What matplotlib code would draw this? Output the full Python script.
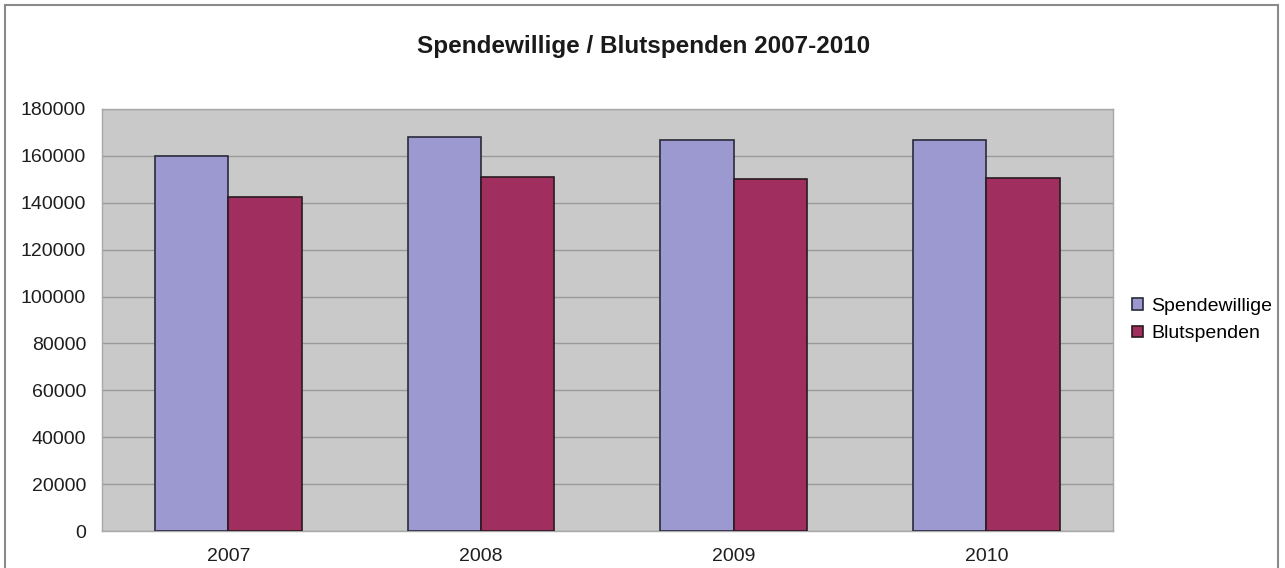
import matplotlib.pyplot as plt
import numpy as np
from matplotlib.patches import Rectangle

years = ["2007", "2008", "2009", "2010"]
spendewillige = [160000, 168000, 166800, 166800]
blutspenden = [142500, 151200, 150000, 150600]
yticks = [0, 20000, 40000, 60000, 80000, 100000, 120000, 140000, 160000, 180000]


def main():
    plt.rcParams['font.family'] = ['Liberation Sans', 'DejaVu Sans']
    fig = plt.figure(figsize=(12.85, 5.68), dpi=100)
    ax = fig.add_axes([0.0794, 0.0651, 0.7865, 0.743])

    x = np.arange(len(years))
    w = 0.29
    ax.bar(x - w / 2, spendewillige, w, color='#9b99cf', edgecolor='#2a2a3a',
           linewidth=1.2, label='Spendewillige', zorder=3)
    ax.bar(x + w / 2, blutspenden, w, color='#a02f60', edgecolor='#2a1a20',
           linewidth=1.2, label='Blutspenden', zorder=3)

    ax.set_facecolor('#c9c9c9')
    ax.set_xlim(-0.5, len(years) - 0.5)
    ax.set_ylim(0, 180000)
    ax.set_yticks(yticks)
    ax.set_yticklabels([str(v) for v in yticks])
    ax.set_xticks(x)
    ax.set_xticklabels(years)
    ax.tick_params(axis='both', labelsize=14, length=0, colors='#1e1e1e')
    ax.tick_params(axis='y', pad=11.5)
    ax.tick_params(axis='x', pad=12)
    ax.grid(axis='y', color='#9a9a9a', linewidth=1.0, zorder=1)
    for s in ax.spines.values():
        s.set_color('#a8a8a8')
        s.set_linewidth(1.0)

    fig.text(0.501, 0.918, 'Spendewillige / Blutspenden 2007-2010',
             ha='center', va='center', fontsize=17.5, fontweight='bold', color='#1a1a1a')

    ax.legend(loc='center left', bbox_to_anchor=(1.0, 0.5), frameon=False,
              fontsize=14, handlelength=0.55, handleheight=0.55,
              handletextpad=0.45, labelspacing=0.55, borderaxespad=0.6)

    # outer chart border
    fig.patches.append(Rectangle((5 / 1285, -0.01), 1273 / 1285, 1.0 - 5 / 568 + 0.01,
                                 transform=fig.transFigure, fill=False,
                                 edgecolor='#8a8a8a', linewidth=1.5))

    fig.savefig("out.png", dpi=100)


if __name__ == "__main__":
    main()
